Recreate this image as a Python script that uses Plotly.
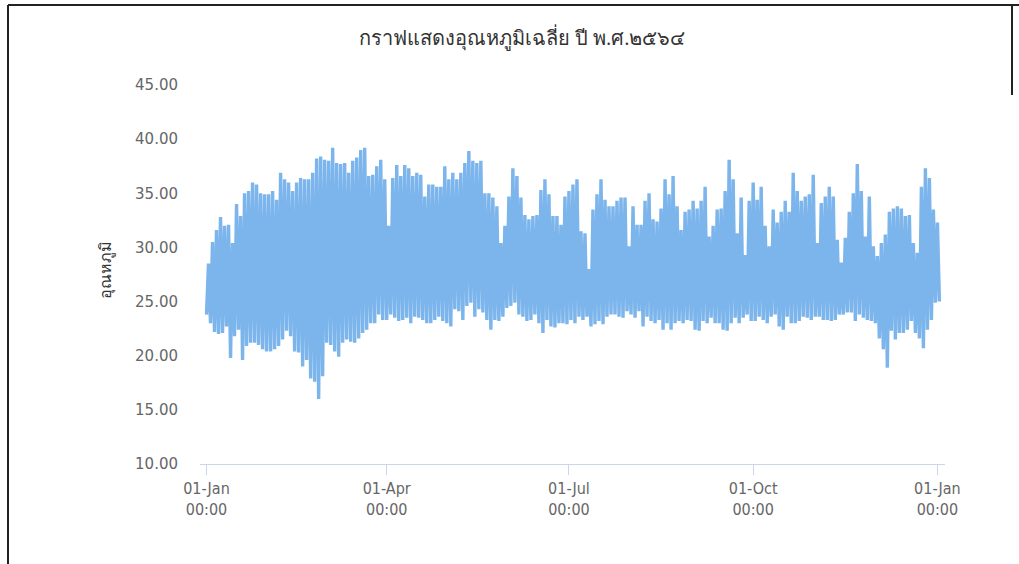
import plotly.graph_objects as go
import pandas as pd

title_text = "กราฟแสดงอุณหภูมิเฉลี่ย ปี พ.ศ.๒๕๖๔"
y_title = "อุณหภูมิ"
start_date = "2021-01-01"
block_days = 2

# estimated peak (high) per 2-day block
highs = [
    28.5, 30.5, 31.6, 32.8, 32.0, 32.1, 30.4, 34.0, 32.9, 35.0,
    35.2, 36.0, 35.8, 35.0, 34.9, 34.9, 35.2, 34.4, 36.9, 36.3,
    36.0, 35.2, 36.0, 36.4, 36.3, 36.3, 36.9, 38.2, 38.4, 38.1,
    38.0, 39.2, 37.8, 37.7, 37.8, 36.9,
    38.0, 38.3, 39.0, 39.2, 36.6, 36.7, 37.5, 38.1, 36.3, 32.0,
    36.4, 37.6, 36.6, 37.6, 37.3, 36.6, 36.9, 36.7, 34.7, 35.8,
    35.8, 35.6, 35.6, 37.5, 36.3, 36.9, 36.3, 36.9, 37.8, 38.9,
    38.0, 37.8, 38.0, 35.0, 35.0, 34.6,
    33.8, 30.4, 32.0, 34.7, 37.3, 36.6, 34.6, 33.0, 32.6, 32.9,
    33.0, 35.3, 36.3, 34.9, 32.9, 32.9, 32.1, 34.7, 35.2, 35.8,
    36.3, 31.5, 31.3, 28.0, 33.5, 34.9, 36.3, 34.4, 33.8, 33.8,
    34.3, 34.6, 34.6, 30.1, 33.8, 32.1,
    32.1, 34.3, 35.0, 32.6, 32.4, 33.6, 36.3, 34.9, 36.6, 33.8,
    31.6, 33.3, 33.5, 34.3, 33.6, 34.3, 35.6, 31.0, 32.0, 33.5,
    33.6, 35.2, 38.1, 36.3, 31.3, 34.6, 29.3, 34.3, 36.0, 34.4,
    35.6, 32.0, 30.1, 33.5, 32.3, 33.3,
    34.3, 33.3, 36.9, 35.2, 34.3, 34.7, 34.9, 36.7, 30.4, 34.1,
    34.7, 35.6, 34.7, 30.7, 28.6, 30.9, 33.3, 35.0, 37.7, 35.2,
    31.0, 34.7, 30.1, 29.2, 30.4, 31.2, 33.3, 33.6, 33.8, 33.6,
    32.9, 33.0, 30.4, 29.5, 35.6, 37.3, 36.4, 33.5, 32.3,
]

# estimated trough (low) per 2-day block
lows = [
    23.8, 23.0, 22.2, 22.0, 22.1, 22.7, 19.8, 21.8, 22.4, 19.6,
    20.9, 21.2, 21.2, 21.0, 20.6, 20.4, 20.4, 20.6, 20.9, 21.5,
    22.3, 21.8, 20.4, 20.3, 19.0, 19.6, 17.9, 17.6, 16.0, 18.1,
    21.2, 21.0, 20.4, 19.9, 21.2, 21.5,
    21.3, 21.2, 21.6, 22.1, 22.4, 23.0, 23.0, 23.8, 23.3, 23.3,
    23.8, 23.5, 23.2, 23.3, 23.5, 23.0, 23.6, 23.5, 23.3, 23.0,
    23.0, 23.3, 23.6, 23.2, 23.0, 22.7, 24.3, 24.1, 23.3, 24.6,
    24.9, 23.6, 24.3, 24.0, 23.3, 22.4,
    23.3, 23.2, 23.6, 24.4, 24.6, 24.9, 23.8, 23.6, 23.2, 23.3,
    23.8, 23.0, 22.1, 23.3, 22.7, 22.6, 23.0, 23.0, 22.9, 23.3,
    23.0, 23.6, 23.3, 23.6, 22.7, 22.9, 23.2, 22.9, 23.6, 23.8,
    23.8, 23.6, 23.5, 24.1, 23.8, 23.5,
    24.1, 22.7, 23.6, 23.2, 23.0, 23.3, 22.4, 23.0, 22.4, 23.0,
    23.2, 23.0, 23.3, 23.2, 22.4, 22.3, 23.2, 23.0, 23.5, 23.0,
    23.0, 22.4, 22.3, 23.0, 23.5, 23.0, 23.5, 23.8, 23.2, 23.2,
    23.6, 23.3, 23.0, 23.6, 23.8, 22.7,
    22.4, 23.6, 23.0, 23.0, 23.2, 23.6, 23.5, 23.3, 23.6, 23.6,
    23.3, 23.3, 23.2, 23.3, 23.8, 23.8, 24.0, 24.0, 23.2, 23.8,
    23.5, 23.3, 23.2, 23.0, 21.6, 20.6, 18.9, 22.3, 21.5, 22.1,
    22.1, 22.4, 23.2, 22.1, 21.6, 20.7, 22.4, 23.3, 24.9, 25.0,
]

tick_dates = ["2021-01-01", "2021-04-01", "2021-07-01", "2021-10-01", "2022-01-01"]
tick_labels = ["01-Jan<br>00:00", "01-Apr<br>00:00", "01-Jul<br>00:00",
               "01-Oct<br>00:00", "01-Jan<br>00:00"]

t0 = pd.Timestamp(start_date)
xs, ys = [], []
for k in range(len(lows)):
    xs.append(t0 + pd.Timedelta(days=block_days * k))
    ys.append(lows[k])
    if k < len(highs):
        xs.append(t0 + pd.Timedelta(days=block_days * k + 1))
        ys.append(highs[k])

W, H = 1019, 564
ML, MR, MT, MB = 200, 74, 85, 100
PW, PH = W - ML - MR, H - MT - MB


def px(x):
    return (x - ML) / PW


def py(y):
    return (H - MB - y) / PH


fig = go.Figure()
fig.add_trace(go.Scatter(
    x=xs, y=ys, mode="lines",
    line=dict(color="#7cb5ec", width=3.4, simplify=False),
    showlegend=False, hoverinfo="x+y",
))

frame = dict(type="line", xref="paper", yref="paper",
             line=dict(color="#222222", width=2))
fig.update_layout(
    width=W, height=H, autosize=False,
    margin=dict(l=ML, r=MR, t=MT, b=MB),
    paper_bgcolor="white", plot_bgcolor="white",
    title=dict(text=title_text, x=522 / W, xref="container", xanchor="center",
               y=1 - 38 / H, yref="container", yanchor="middle",
               font=dict(size=20, color="#333333")),
    xaxis=dict(type="date", range=["2020-12-28 18:00", "2022-01-04 19:00"],
               tickvals=tick_dates, ticktext=tick_labels,
               ticks="outside", ticklen=10, tickcolor="#ccd6eb", tickwidth=1,
               showline=True, linecolor="#ccd6eb", linewidth=1,
               showgrid=False, zeroline=False,
               tickfont=dict(family="DejaVu Sans Condensed", size=16, color="#666666")),
    yaxis=dict(range=[10, 45], tick0=10, dtick=5, tickformat=".2f",
               showgrid=False, zeroline=False, showline=False, ticks="",
               ticklabelstandoff=21,
               tickfont=dict(family="DejaVu Sans", size=15, color="#666666")),
    annotations=[dict(text=y_title, xref="paper", yref="paper",
                      x=px(105), y=py(270), showarrow=False, textangle=-90,
                      xanchor="center", yanchor="middle",
                      font=dict(size=16, color="#333333"))],
    shapes=[
        dict(frame, x0=px(8), x1=px(W), y0=py(5), y1=py(5)),
        dict(frame, x0=px(8), x1=px(8), y0=py(5), y1=py(H)),
        dict(frame, x0=px(1012), x1=px(1012), y0=py(5), y1=py(95)),
    ],
)

fig.write_html("out.html", config={"displayModeBar": False},
               post_script="document.body.style.margin='0';document.body.style.overflow='hidden';")
